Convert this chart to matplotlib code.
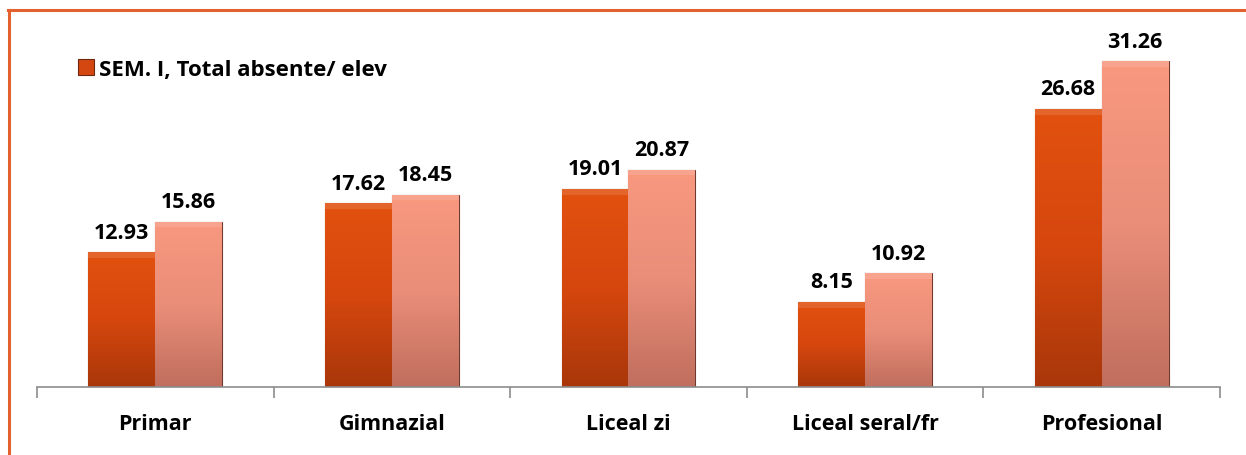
import numpy as np
import matplotlib
matplotlib.use('Agg')
import matplotlib.pyplot as plt
from matplotlib.colors import LinearSegmentedColormap

# date
categorii = ['Primar', 'Gimnazial', 'Liceal zi', 'Liceal seral/fr', 'Profesional']
sem1 = [12.93, 17.62, 19.01, 8.15, 26.68]
sem2 = [15.86, 18.45, 20.87, 10.92, 31.26]
legenda = 'SEM. I, Total absente/ elev'

plt.rcParams['font.family'] = ['Open Sans', 'DejaVu Sans']
plt.rcParams['font.weight'] = 'bold'

fig = plt.figure(figsize=(12.46, 4.56), dpi=100)
ax = fig.add_axes([0.0297, 0.149, 0.9494, 0.80])

x = np.arange(len(categorii))
w = 0.283
b1 = ax.bar(x - w / 2, sem1, w, color='#D44710', edgecolor='#6e2810', linewidth=0.8, label=legenda, zorder=2)
b2 = ax.bar(x + w / 2, sem2, w, color='#EE8A75', edgecolor='#6e3a30', linewidth=0.8, zorder=2)

# gradient pe bare
cm1 = LinearSegmentedColormap.from_list('c1', ['#A9370A', '#D6470E', '#E2510F'])
cm2 = LinearSegmentedColormap.from_list('c2', ['#C06E5E', '#EA8E79', '#F8987F'])
grad = np.linspace(0, 1, 256).reshape(-1, 1)
for bars, cm in [(b1, cm1), (b2, cm2)]:
    for p in bars:
        x0, y0 = p.get_x(), p.get_y()
        im = ax.imshow(grad, extent=[x0, x0 + p.get_width(), y0, y0 + p.get_height()],
                       origin='lower', cmap=cm, aspect='auto', zorder=2.5)
        im.set_clip_path(p)
        # margine superioara putin mai deschisa
        ax.add_patch(plt.Rectangle((x0, y0 + p.get_height() - 0.55), p.get_width(), 0.55,
                                   color='white', alpha=0.12, lw=0, zorder=2.6))

for bars, vals in [(b1, sem1), (b2, sem2)]:
    for p, v in zip(bars, vals):
        ax.annotate(f'{v:.2f}', (p.get_x() + p.get_width() / 2, p.get_height()),
                    xytext=(0, 7), textcoords='offset points', ha='center', va='bottom',
                    fontsize=15.5, fontweight='bold')

ax.set_xlim(-0.5, len(categorii) - 0.5)
ax.set_ylim(0, 35)
ax.set_yticks([])
for s in ['top', 'right', 'left']:
    ax.spines[s].set_visible(False)
ax.spines['bottom'].set_color('#8c8c8c')
ax.spines['bottom'].set_linewidth(1.2)
ax.set_xticks(np.arange(len(categorii) + 1) - 0.5)
ax.set_xticklabels([])
ax.set_xticks(x, minor=True)
ax.set_xticklabels(categorii, minor=True, fontsize=15.5, fontweight='bold')
ax.tick_params(axis='x', which='major', length=8, color='#8c8c8c', width=1.2)
ax.tick_params(axis='x', which='minor', length=0, pad=19)

ax.legend(loc='upper left', bbox_to_anchor=(0.018, 0.955), frameon=False,
          prop={'size': 16, 'weight': 'bold'}, handlelength=0.7, handleheight=0.7,
          handletextpad=0.25)

# chenarul portocaliu (sus si stanga)
fig.add_artist(plt.Line2D([0.0064, 1.0], [0.976, 0.976], color='#E2612F', lw=2.2))
fig.add_artist(plt.Line2D([0.0072, 0.0072], [0.0, 0.976], color='#E2612F', lw=2.2))

plt.savefig('out.png', dpi=100)
